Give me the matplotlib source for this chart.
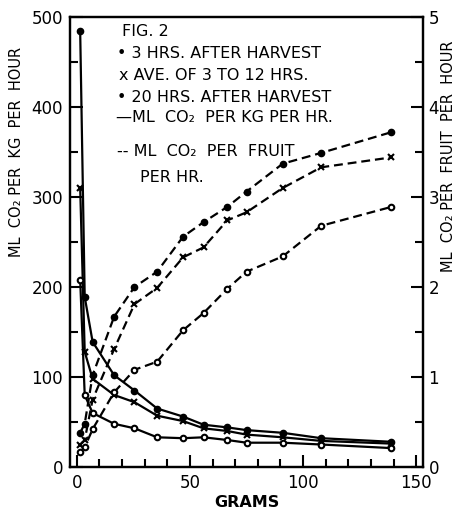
import matplotlib.pyplot as plt
from matplotlib.ticker import MultipleLocator

# fruit weight (grams)
grams = [1.5, 3.5, 7, 16.5, 25.5, 35.5, 47, 56, 66.5, 75, 91, 108, 139]

# ML CO2 per kg per hr (left axis, solid)
kg_3hr = [484, 189, 139, 102, 85, 65, 56, 47, 44, 41, 38, 32, 28]
kg_ave = [310, 128, 98, 80, 72, 57, 51, 43, 40, 36, 33, 29, 26]
kg_20hr = [208, 80, 60, 48, 43, 33, 32, 33, 30, 27, 27, 25, 21]

# ML CO2 per fruit per hr (right axis, dashed)
fruit_3hr = [0.38, 0.48, 1.02, 1.67, 2.0, 2.17, 2.56, 2.72, 2.89, 3.06, 3.37, 3.49, 3.72]
fruit_ave = [0.25, 0.30, 0.75, 1.31, 1.81, 1.99, 2.33, 2.44, 2.74, 2.83, 3.10, 3.33, 3.44]
fruit_20hr = [0.17, 0.22, 0.42, 0.83, 1.08, 1.17, 1.52, 1.71, 1.98, 2.17, 2.34, 2.68, 2.89]

W, H = 466, 515
fig = plt.figure(figsize=(W / 100, H / 100), dpi=100)
ax = fig.add_axes([70 / W, 1 - 467 / H, (423 - 70) / W, (467 - 17) / H])
ax2 = ax.twinx()

lw = 1.6
dash = (0, (4, 2.2))
ax.plot(grams, kg_3hr, color='black', lw=lw, marker='o', ms=4.5)
ax.plot(grams, kg_ave, color='black', lw=lw, marker='x', ms=4.5, mew=1.5)
ax.plot(grams, kg_20hr, color='black', lw=lw, marker='o', ms=4, mfc='white', mew=1.5)

ax2.plot(grams, fruit_3hr, color='black', lw=lw, ls=dash, marker='o', ms=4.5)
ax2.plot(grams, fruit_ave, color='black', lw=lw, ls=dash, marker='x', ms=4.5, mew=1.5)
ax2.plot(grams, fruit_20hr, color='black', lw=lw, ls=dash, marker='o', ms=4, mfc='white', mew=1.5)

ax.set_xlim(-3, 153)
ax.set_ylim(0, 500)
ax2.set_ylim(0, 5)

ax.xaxis.set_major_locator(MultipleLocator(50))
ax.xaxis.set_minor_locator(MultipleLocator(10))
ax.yaxis.set_major_locator(MultipleLocator(100))
ax.yaxis.set_minor_locator(MultipleLocator(50))
ax2.yaxis.set_major_locator(MultipleLocator(1))
ax2.yaxis.set_minor_locator(MultipleLocator(0.5))

for a in (ax, ax2):
    for s in a.spines.values():
        s.set_linewidth(1.6)
ax.tick_params(which='both', direction='in', width=1.5, labelsize=12, top=False, right=False, pad=5)
ax.tick_params(which='major', length=9)
ax.tick_params(which='minor', length=6)
ax2.tick_params(which='both', direction='in', width=1.5, labelsize=12, pad=4)
ax2.tick_params(which='major', length=9)
ax2.tick_params(which='minor', length=6)

ax.set_xlabel('GRAMS', fontsize=11.5, fontweight='bold', labelpad=2)
ax.set_ylabel('ML  CO₂ PER  KG  PER  HOUR', fontsize=10.5)
ax2.set_ylabel('ML  CO₂ PER  FRUIT  PER  HOUR', fontsize=10.5)
ax.yaxis.set_label_coords(-0.13, 0.70)
ax2.yaxis.set_label_coords(1.05, 0.69)


def txt(px, py, s, **kw):
    fig.text(px / W, 1 - py / H, s, fontsize=11.5, va='center', ha='left', **kw)


txt(122, 31, 'FIG. 2')
txt(117, 54, '• 3 HRS. AFTER HARVEST')
txt(119, 76, 'x AVE. OF 3 TO 12 HRS.')
txt(117, 98, '• 20 HRS. AFTER HARVEST')
txt(116, 118, '—ML  CO₂  PER KG PER HR.')
txt(117, 151, '-- ML  CO₂  PER  FRUIT')
txt(140, 178, 'PER HR.')

fig.savefig('out.png', dpi=100)
